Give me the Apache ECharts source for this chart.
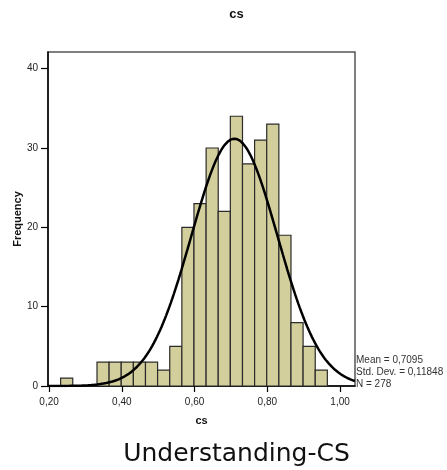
<!DOCTYPE html>
<html>
<head>
<meta charset="utf-8">
<title>cs</title>
<script src="https://cdn.jsdelivr.net/npm/echarts@6/dist/echarts.min.js"></script>
<style>
  html, body { margin: 0; padding: 0; background: #fff; }
  #chart { width: 447px; height: 470px; }
</style>
</head>
<body>
<div id="chart"></div>
<script>
// Histogram bin edges (cs score) and counts per bin
const binEdges = [0.2317, 0.2650, 0.2983, 0.3317, 0.3650, 0.3983, 0.4317, 0.4650,
                  0.4983, 0.5317, 0.5650, 0.5983, 0.6317, 0.6650, 0.6983, 0.7317,
                  0.7650, 0.7983, 0.8317, 0.8650, 0.8983, 0.9317, 0.9650];
const binCounts = [1, 0, 0, 3, 3, 3, 3, 3, 2, 5, 20, 23, 30, 22, 34, 28, 31, 33, 19, 8, 5, 2];

// Summary statistics shown beside the plot
const statMean = 0.7095;
const statSd = 0.11848;
const statN = 278;

// Tick values
const xTicks = [0.2, 0.4, 0.6, 0.8, 1.0];
const yTicks = [0, 10, 20, 30, 40];

const xMin = 0.197, xMax = 1.041;
const yMin = 0, yMax = 42.1;

const comma = v => v.toFixed(2).replace('.', ',');
const commaN = (v, d) => v.toFixed(d).replace('.', ',');

// bar rows: [low edge, high edge, count]
const barData = binCounts.map((c, i) => [binEdges[i], binEdges[i + 1], c]);

// Normal curve scaled to the histogram: N * binWidth * pdf(x)
const binWidth = binEdges[1] - binEdges[0];
const curve = [];
for (let i = 0; i <= 200; i++) {
  const x = xMin + (xMax - xMin) * i / 200;
  const z = (x - statMean) / statSd;
  const y = statN * binWidth * Math.exp(-0.5 * z * z) / (statSd * Math.sqrt(2 * Math.PI));
  curve.push([x, y]);
}

const chart = echarts.init(document.getElementById('chart'), null, { renderer: 'canvas' });

const option = {
  animation: false,
  backgroundColor: '#ffffff',
  grid: {
    left: 48, top: 52, right: 92, bottom: 84,
    outerBoundsMode: 'none', containLabel: false,
    show: true, borderColor: '#555555', borderWidth: 1.5, backgroundColor: 'transparent'
  },
  xAxis: {
    type: 'value', min: xMin, max: xMax,
    name: 'cs', nameLocation: 'middle', nameGap: 29, nameMoveOverlap: false,
    nameTextStyle: { fontFamily: 'Liberation Sans', fontWeight: 'bold', fontSize: 11, color: '#111' },
    axisLine: { show: true, onZero: false, lineStyle: { color: '#000', width: 1.5 } },
    axisTick: { show: true, length: 6, customValues: xTicks, lineStyle: { color: '#000', width: 1.2 } },
    axisLabel: {
      customValues: xTicks, margin: 11,
      fontFamily: 'Liberation Sans', fontSize: 10, color: '#222',
      formatter: v => comma(v)
    },
    splitLine: { show: false }
  },
  yAxis: {
    type: 'value', min: yMin, max: yMax,
    name: 'Frequency', nameLocation: 'middle', nameGap: 25, nameRotate: 90, nameMoveOverlap: false,
    nameTextStyle: { fontFamily: 'Liberation Sans', fontWeight: 'bold', fontSize: 11, color: '#111' },
    axisLine: { show: true, lineStyle: { color: '#000', width: 1.5 } },
    axisTick: { show: true, length: 7, customValues: yTicks, lineStyle: { color: '#000', width: 1.2 } },
    axisLabel: {
      customValues: yTicks, margin: 10,
      fontFamily: 'Liberation Sans', fontSize: 10, color: '#222',
      formatter: v => String(Math.round(v))
    },
    splitLine: { show: false }
  },
  series: [
    {
      type: 'custom',
      data: barData,
      encode: { x: [0, 1], y: 2 },
      clip: true,
      renderItem: function (params, api) {
        const c = api.value(2);
        if (!c) return null;
        const p0 = api.coord([api.value(0), c]);
        const p1 = api.coord([api.value(1), 0]);
        return {
          type: 'rect',
          shape: { x: p0[0], y: p0[1], width: p1[0] - p0[0], height: p1[1] - p0[1] },
          style: { fill: '#d3cf9c', stroke: '#2b2b2b', lineWidth: 1.2 }
        };
      },
      z: 2
    },
    {
      type: 'line',
      data: curve,
      showSymbol: false,
      smooth: false,
      clip: true,
      lineStyle: { color: '#000', width: 2.5 },
      z: 3
    }
  ],
  graphic: [
    {
      type: 'text', x: 236.5, y: 14,
      style: { text: 'cs', align: 'center', verticalAlign: 'middle',
               font: 'bold 13px "Liberation Sans"', fill: '#111' }
    },
    {
      type: 'text', x: 356, y: 360,
      style: { text: 'Mean = ' + commaN(statMean, 4), align: 'left', verticalAlign: 'middle',
               font: '10px "Liberation Sans"', fill: '#333' }
    },
    {
      type: 'text', x: 356, y: 372,
      style: { text: 'Std. Dev. = ' + commaN(statSd, 5), align: 'left', verticalAlign: 'middle',
               font: '10px "Liberation Sans"', fill: '#333' }
    },
    {
      type: 'text', x: 356, y: 384,
      style: { text: 'N = ' + statN, align: 'left', verticalAlign: 'middle',
               font: '10px "Liberation Sans"', fill: '#333' }
    },
    {
      type: 'text', x: 236.5, y: 454,
      style: { text: 'Understanding-CS', align: 'center', verticalAlign: 'middle',
               font: '25px "DejaVu Sans"', fill: '#111' }
    }
  ]
};

chart.setOption(option);
</script>
</body>
</html>
